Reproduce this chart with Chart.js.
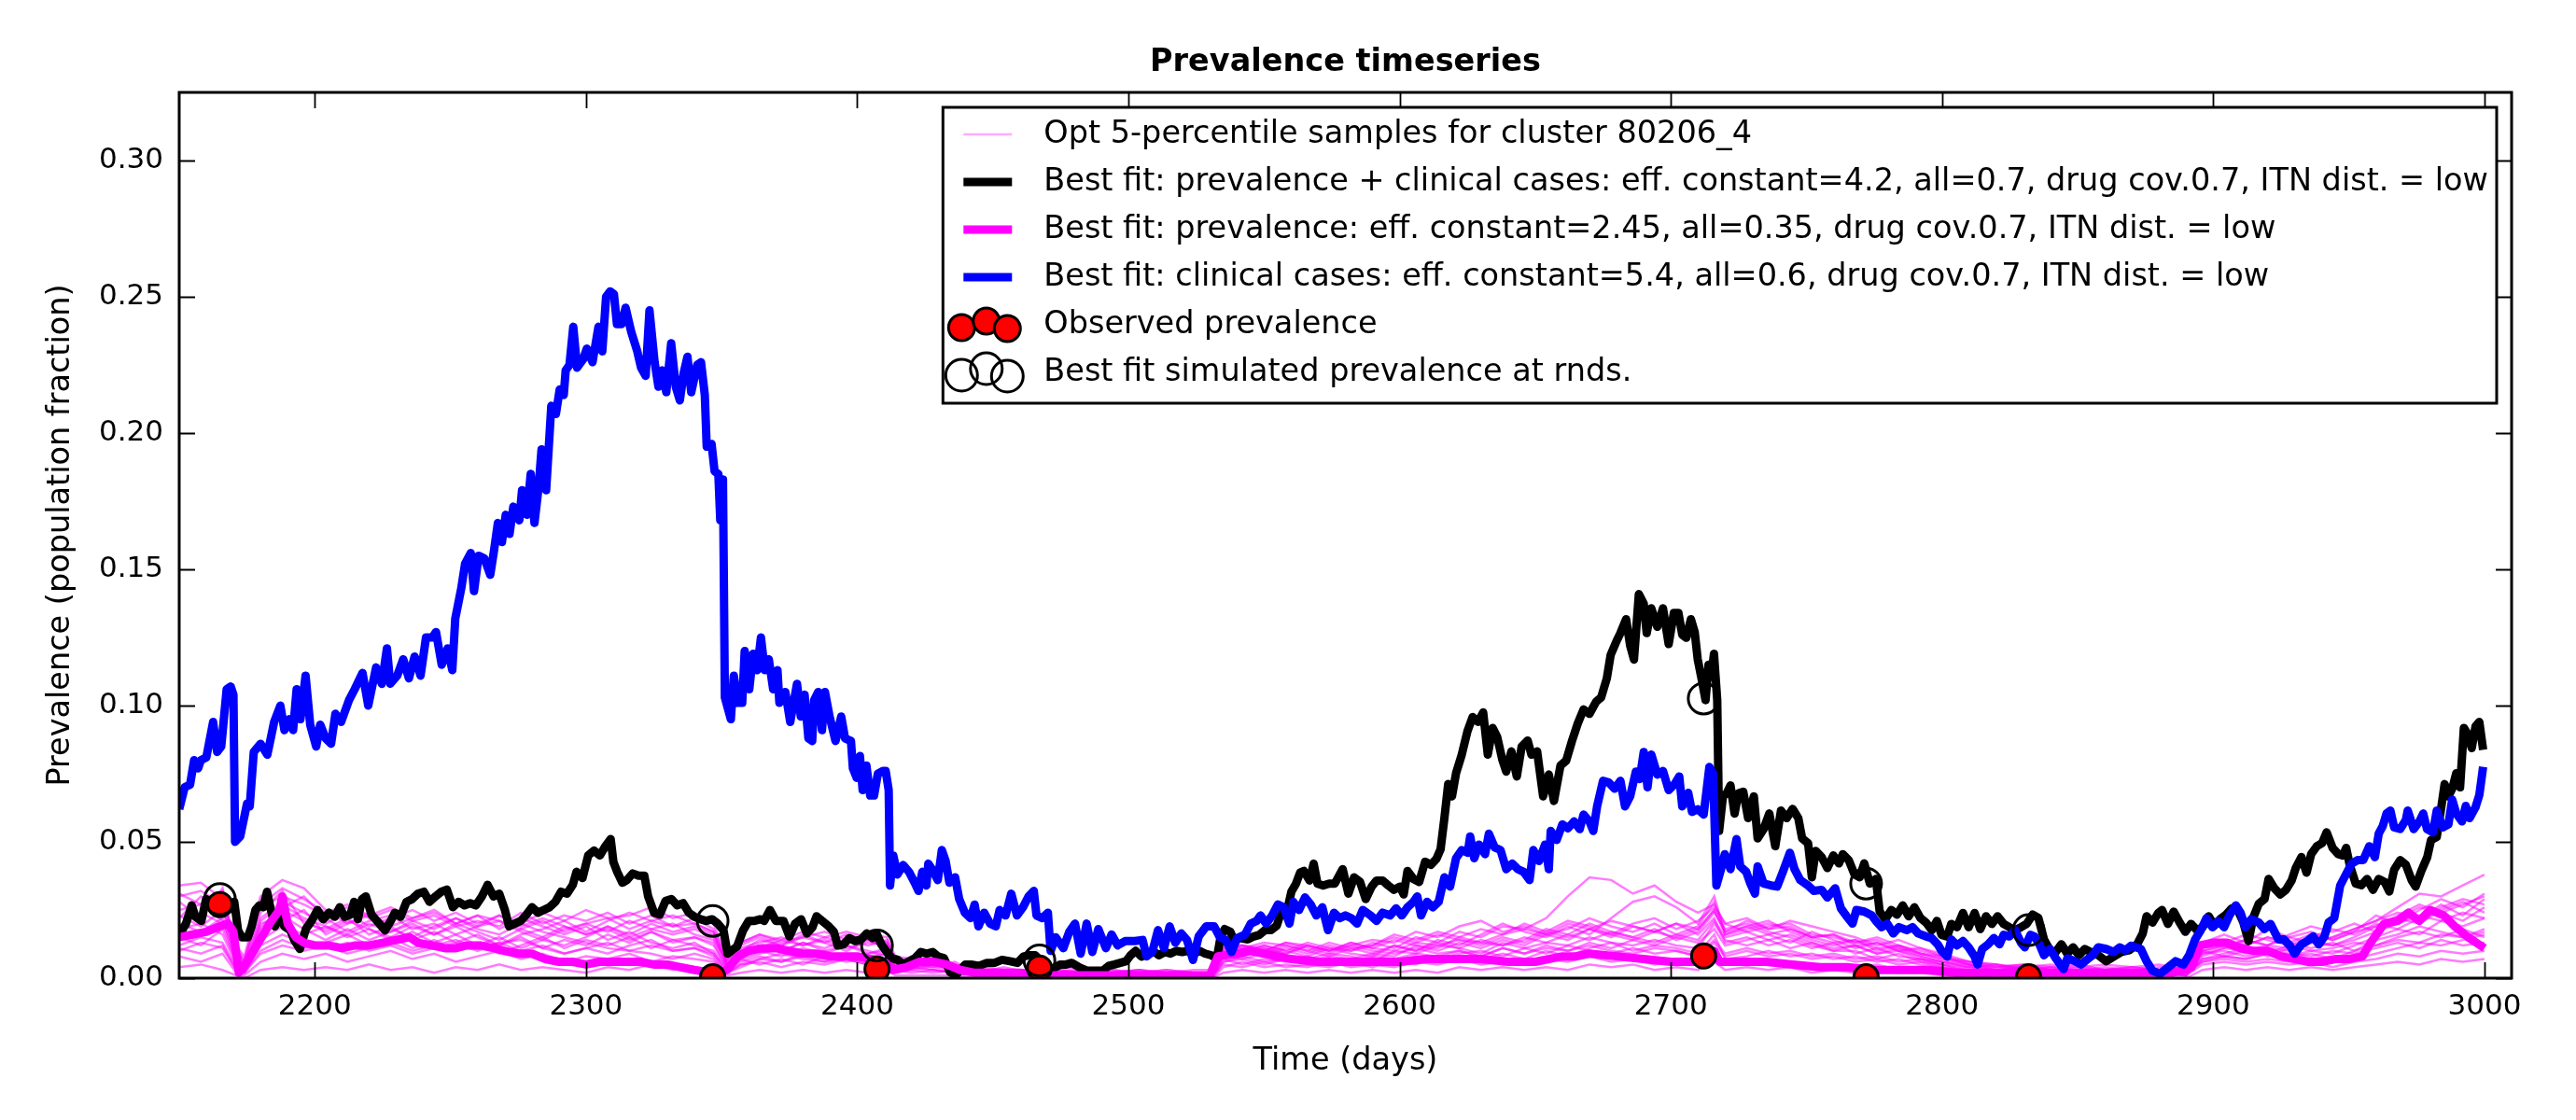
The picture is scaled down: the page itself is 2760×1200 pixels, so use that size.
<!DOCTYPE html>
<html>
<head>
<meta charset="utf-8">
<title>Prevalence timeseries</title>
<script src="https://cdn.jsdelivr.net/npm/chart.js@4.4.1/dist/chart.umd.min.js"></script>
<style>
  html, body { margin: 0; padding: 0; background: #fff; }
  canvas { display: block; }
</style>
</head>
<body>
<canvas id="chart" width="2760" height="1200"></canvas>
<script>
// axis ticks
const xTicks = [2200, 2300, 2400, 2500, 2600, 2700, 2800, 2900, 3000];
const yTicks = [0, 0.05, 0.10, 0.15, 0.20, 0.25, 0.30];

// best fit: clinical cases (blue) [day, prevalence]
const blueFit = [
  [2150,.062],[2152,.070],[2154,.071],[2155.5,.080],[2157,.077],[2158,.080],[2160,.081],[2162.5,.094],[2164,.083],[2165.5,.085],
  [2167.5,.106],[2169,.107],[2170,.104],[2170.6,.050],[2172.5,.052],[2175,.064],[2176,.063],[2177.5,.083],[2180,.086],[2182.5,.082],
  [2185,.094],[2187.3,.100],[2188.8,.091],[2190.5,.095],[2192,.091],[2193.3,.106],[2194.7,.095],[2196.6,.111],[2198.3,.093],[2200.5,.085],
  [2202,.093],[2204,.088],[2206,.086],[2207.6,.097],[2209.7,.094],[2212.6,.102],[2214.7,.106],[2217.6,.112],[2219.7,.100],[2222.6,.114],
  [2224.7,.108],[2226.6,.121],[2227.8,.108],[2230.4,.111],[2232.6,.117],[2234.7,.110],[2236.8,.118],[2239,.111],[2241,.125],[2243.3,.125],
  [2244.7,.127],[2246.8,.115],[2249,.121],[2250.7,.113],[2251.8,.132],[2254,.143],[2255.4,.152],[2257.5,.156],[2258.7,.142],[2260.4,.155],
  [2262.5,.154],[2264.7,.148],[2266.1,.157],[2267.5,.167],[2269,.160],[2270.4,.170],[2271.8,.163],[2273.2,.173],[2275.4,.168],[2276.4,.179],
  [2278.2,.170],[2279.6,.185],[2281,.167],[2282.5,.180],[2283.6,.194],[2285.3,.179],[2287.2,.210],[2288.9,.207],[2290.3,.216],[2291.8,.214],
  [2292.5,.223],[2293.9,.225],[2295.3,.239],[2296.7,.224],[2298.9,.227],[2300.3,.231],[2302.4,.226],[2304.6,.239],[2306,.230],[2307.4,.250],
  [2308.9,.252],[2310.3,.251],[2311.4,.240],[2313.1,.240],[2314.6,.246],[2316.7,.237],[2318.9,.230],[2320.3,.224],[2322,.221],[2323.4,.245],
  [2325.3,.226],[2326.7,.217],[2328.1,.223],[2329.6,.215],[2331.4,.233],[2333.1,.217],[2334.6,.212],[2336,.222],[2337.4,.228],[2338.8,.215],
  [2341,.225],[2342.4,.226],[2343.8,.214],[2344.5,.195],[2346.3,.196],[2347.4,.186],[2348.8,.185],[2349.5,.168],[2350.5,.183],[2351.2,.103],
  [2353.4,.095],[2354.5,.111],[2355.9,.101],[2357.6,.101],[2358.5,.120],[2360.2,.106],[2361.6,.119],[2363.1,.113],[2364.5,.125],[2365.9,.113],
  [2367.4,.117],[2369,.106],[2370.6,.113],[2371.3,.101],[2373.5,.105],[2375.3,.094],[2377.8,.108],[2379.2,.096],[2380.6,.104],[2382,.088],
  [2383.4,.087],[2384.1,.102],[2385.6,.105],[2387,.091],[2388.1,.105],[2389.8,.096],[2392,.087],[2394.1,.096],[2395.5,.088],[2397.7,.087],
  [2398.4,.077],[2399.8,.0735],[2401,.0815],[2402,.069],[2403.4,.078],[2404.8,.067],[2406.2,.067],[2407.6,.075],[2409.5,.076],[2410.5,.076],
  [2411.6,.069],[2412.1,.034],[2413.3,.045],[2414.8,.038],[2416.9,.0415],[2419.1,.039],[2421.2,.035],[2422.6,.032],[2424,.039],[2425.5,.034],
  [2426.2,.042],[2427.6,.040],[2429.7,.036],[2431.2,.047],[2432.6,.043],[2434,.035],[2436.1,.037],[2437.6,.029],[2439.7,.024],[2441.8,.022],
  [2443.3,.027],[2444.7,.019],[2446.8,.024],[2449,.020],[2451.1,.019],[2452.5,.025],[2454.7,.023],[2456.8,.031],[2458.9,.023],[2461.1,.026],
  [2463.2,.030],[2465.1,.032],[2466.1,.023],[2468.2,.022],[2470.3,.024],[2471.3,.010],[2473.2,.015],[2476,.011],[2478.2,.017],[2480.3,.020],
  [2482.4,.009],[2484.6,.020],[2486.7,.0096],[2488.9,.018],[2491.7,.011],[2493.8,.016],[2496,.012],[2498.8,.0136],[2502.4,.0136],[2505.2,.014],
  [2506.7,.008],[2508.8,.0096],[2510.9,.0176],[2513.1,.011],[2515.2,.019],[2517.3,.013],[2519.5,.0164],[2521.6,.014],[2523.8,.0067],[2525.9,.0153],
  [2528.7,.019],[2531.6,.019],[2533.7,.015],[2535.9,.014],[2538,.0096],[2540.1,.0147],[2543,.016],[2545.1,.020],[2547.3,.021],[2548.7,.023],
  [2550.8,.020],[2553,.023],[2555.1,.027],[2557.2,.026],[2559.4,.020],[2560.8,.028],[2562.9,.025],[2565.1,.0296],[2567.2,.027],[2569.3,.023],
  [2571.5,.026],[2573.6,.0176],[2575.8,.024],[2577.9,.022],[2580,.023],[2582.2,.022],[2584.3,.020],[2586.4,.025],[2589.3,.023],[2591.5,.021],
  [2593.7,.024],[2596.5,.023],[2598.7,.0256],[2600.8,.023],[2602.9,.026],[2605.1,.028],[2606.5,.030],[2607.9,.023],[2610.1,.028],[2612.2,.026],
  [2614.4,.028],[2616.5,.037],[2618.6,.0336],[2620.8,.044],[2622.9,.047],[2625.1,.046],[2626,.052],[2627.5,.044],[2629.3,.049],[2631.5,.0455],
  [2632.9,.053],[2635,.048],[2637.2,.047],[2639.3,.040],[2641.5,.042],[2643.6,.040],[2645.7,.039],[2647.9,.036],[2649.3,.047],[2651.4,.043],
  [2653.6,.049],[2655,.040],[2655.7,.054],[2657.9,.0507],[2660,.0564],[2662.1,.055],[2664.3,.0575],[2666.4,.0547],[2667.8,.060],[2670,.0575],
  [2671.4,.054],[2672.8,.063],[2675,.0724],[2677.1,.0718],[2679.3,.0695],[2681.4,.0724],[2683.1,.063],[2685,.0667],[2687.1,.0758],[2688.5,.073],
  [2690,.083],[2691.4,.070],[2692.8,.082],[2695,.0747],[2697.1,.076],[2699.2,.069],[2701.4,.0712],[2703.1,.074],[2704.2,.063],[2706.4,.068],
  [2707.8,.061],[2709.9,.062],[2712.1,.060],[2714.2,.0775],[2715.6,.075],[2716.8,.034],[2718.5,.040],[2719.9,.0455],[2722,.040],[2724.2,.051],
  [2725.6,.041],[2727.8,.039],[2729.2,.035],[2731,.031],[2732,.041],[2734.2,.0347],[2737,.034],[2739.2,.0336],[2741.3,.039],[2743.9,.046],
  [2745.6,.040],[2747.7,.036],[2750.6,.034],[2752.7,.032],[2755.6,.0324],[2757.7,.0296],[2760.6,.033],[2762.7,.0256],[2764.8,.0227],[2767,.020],
  [2768.4,.025],[2771.3,.0244],[2774.1,.023],[2775.6,.021],[2777.7,.0187],[2779.8,.020],[2782,.0164],[2784.1,.0187],[2787,.0176],[2789.1,.0187],
  [2791.2,.0164],[2794.1,.0153],[2796.2,.0147],[2798.4,.0124],[2799.8,.010],[2801.9,.0079],[2803.4,.0142],[2805.5,.012],[2807.7,.0136],[2809.8,.0113],
  [2812,.0079],[2813.1,.005],[2814.8,.0107],[2817,.0124],[2819.1,.0147],[2821.2,.0124],[2822.7,.0159],[2824.8,.0153],[2826.9,.0176],[2829.1,.013],
  [2830.5,.0113],[2832.6,.0159],[2834.1,.0153],[2835.9,.0124],[2837.6,.0084],[2839.8,.0107],[2841.9,.0073],[2844.8,.0033],[2846.2,.0073],[2849,.0062],
  [2851.2,.005],[2853.3,.0067],[2855.5,.0084],[2857.6,.0113],[2860.5,.0107],[2863.3,.0096],[2865.5,.0113],[2867.6,.0102],[2869.7,.0119],[2873.3,.0107],
  [2875.4,.0062],[2877.6,.0027],[2880.4,.0016],[2883.3,.0039],[2886.1,.0062],[2889,.005],[2891.1,.0084],[2893.3,.0142],[2895.4,.0176],[2897.5,.022],
  [2899.7,.0187],[2901.8,.021],[2904,.0187],[2906.1,.0233],[2908.3,.0267],[2910.1,.0239],[2911.8,.0187],[2914,.0216],[2916.8,.0204],[2918.9,.018],
  [2921.1,.0199],[2924,.0142],[2926,.0142],[2928.2,.012],[2930,.009],[2932.5,.0124],[2934.6,.0136],[2936.8,.0153],[2938.9,.0124],[2941,.0153],
  [2942.5,.0204],[2944.6,.022],[2946.8,.034],[2948.9,.038],[2951,.042],[2953.2,.0433],[2955.3,.0433],[2957.5,.0484],[2959.6,.0444],[2961,.053],
  [2962.5,.0558],[2963.9,.0604],[2965.3,.0615],[2966.7,.0553],[2968.9,.0547],[2971,.058],[2971.7,.0615],[2973.9,.0547],[2976,.0575],[2977.4,.0604],
  [2978.8,.0547],[2981,.0535],[2982.4,.0615],[2984.6,.0553],[2986.7,.0564],[2988.1,.0655],[2989.6,.0604],[2991.7,.0575],[2993.1,.0632],[2994.5,.0587],
  [2996.7,.0627],[2998.1,.0672],[2999.5,.0775]
];

// best fit: prevalence + clinical cases (black)
const blackFit = [
  [2150,.017],[2151,.0175],[2152.5,.020],[2154.6,.0267],[2156,.0225],[2158.2,.021],[2159.9,.029],[2161.7,.0275],[2163.9,.026],[2166,.0267],
  [2168.1,.025],[2170.3,.028],[2171.7,.0175],[2173.1,.015],[2175.3,.015],[2176.7,.019],[2178.1,.025],[2179.6,.0267],[2181,.026],[2182.4,.0317],
  [2183.8,.025],[2185.3,.019],[2187,.0225],[2188.8,.019],[2191,.0175],[2192.4,.014],[2194.5,.0107],[2196.7,.018],[2198.8,.021],[2201,.025],
  [2203.1,.0216],[2205.2,.024],[2207.4,.0225],[2209.2,.026],[2211,.0225],[2213.1,.0233],[2214.5,.028],[2215.9,.0216],[2217.4,.029],[2218.8,.030],
  [2220.9,.0233],[2223.8,.020],[2225.9,.0175],[2228,.021],[2229.5,.024],[2231.6,.0225],[2233.8,.028],[2235.9,.029],[2238,.031],[2240.2,.0317],
  [2242.3,.028],[2244.5,.030],[2246.6,.0317],[2248.7,.0325],[2250.9,.026],[2253,.028],[2255.2,.0267],[2257.3,.0275],[2259.4,.0267],[2261.6,.030],
  [2263.7,.0342],[2265.9,.030],[2268,.031],[2270.1,.025],[2271.6,.019],[2273.7,.020],[2275.9,.021],[2278,.0233],[2280.1,.026],[2282.3,.024],
  [2284.4,.025],[2286.5,.026],[2288.7,.028],[2290.8,.0317],[2293,.031],[2295.1,.0342],[2296.5,.039],[2298.7,.0367],[2300.8,.045],[2303,.0468],
  [2305.1,.045],[2307.2,.0485],[2309.1,.051],[2310.1,.0426],[2311.5,.039],[2313.4,.035],[2315.1,.036],[2317.2,.0384],[2319.4,.0376],[2321.5,.0376],
  [2322.9,.030],[2325.1,.024],[2327.2,.0233],[2329.3,.0283],[2331.5,.029],[2333.6,.0267],[2335.8,.0275],[2337.9,.024],[2340,.0225],[2342.2,.0216],
  [2344.3,.021],[2346.5,.0216],[2348.6,.020],[2350.7,.0175],[2352.2,.009],[2353.6,.010],[2355.7,.0116],[2357.9,.0175],[2360,.021],[2362.1,.021],
  [2364.3,.0216],[2365.7,.021],[2367.8,.025],[2370,.021],[2372.8,.021],[2375,.0153],[2377.1,.020],[2379.3,.0216],[2381.4,.0164],[2383.5,.0187],
  [2385,.0227],[2387.1,.021],[2389.2,.0193],[2391.4,.017],[2392.8,.012],[2395,.0124],[2397.1,.0147],[2399.2,.0136],[2401.4,.0142],[2403.5,.0164],
  [2405.7,.0147],[2407.1,.0164],[2408.9,.0124],[2410.6,.010],[2412.8,.0073],[2414.9,.0067],[2417.1,.005],[2419.2,.0062],[2421.3,.0073],[2423.5,.0096],
  [2425.6,.009],[2427.8,.0096],[2429.9,.0079],[2432,.0073],[2434.2,.0022],[2436.3,.001],[2437.8,.0027],[2439.9,.005],[2442,.005],[2444.9,.0045],
  [2447.8,.0056],[2450.6,.0056],[2453.4,.0067],[2456.3,.0062],[2459.1,.0056],[2461.3,.0079],[2463.4,.0084],[2465.6,.0084],[2469.1,.005],[2472,.0033],
  [2474.8,.005],[2477,.005],[2479.1,.0056],[2482,.0039],[2484.8,.0027],[2487.7,.0027],[2490.5,.0027],[2492.7,.0045],[2494.8,.005],[2497,.0056],
  [2499.1,.0062],[2500.8,.0084],[2502.7,.010],[2504.8,.0079],[2506.9,.009],[2509.1,.010],[2511.2,.0084],[2513.4,.0096],[2515.5,.009],[2517.6,.010],
  [2519.8,.0096],[2521.9,.010],[2524.1,.009],[2526.2,.010],[2528.3,.009],[2530.5,.0084],[2532.6,.0073],[2534,.0153],[2535.5,.018],[2537.6,.017],
  [2539,.0136],[2541.2,.0147],[2544,.0142],[2546.2,.0153],[2548.3,.0159],[2550.4,.0176],[2552.6,.0176],[2554.7,.0193],[2556.2,.0239],[2558.3,.0239],
  [2560.1,.0318],[2561.8,.0347],[2563.3,.0387],[2564.7,.0393],[2566.8,.0358],[2568.3,.042],[2569.7,.0347],[2571.8,.034],[2574,.0347],[2576.1,.0347],
  [2579,.040],[2581.1,.031],[2583.2,.037],[2585.4,.0353],[2587.5,.029],[2589.7,.0336],[2591.5,.0358],[2593.7,.0358],[2595.8,.034],[2597.9,.0324],
  [2600.1,.0336],[2601.5,.0307],[2602.9,.0393],[2605.1,.0364],[2607.2,.0353],[2609.4,.0427],[2611.5,.0416],[2613.6,.0438],[2615.1,.0473],[2616.5,.0587],
  [2617.9,.0712],[2619.3,.0667],[2620.8,.0752],[2622.9,.082],[2625,.0906],[2626.9,.0958],[2628.9,.094],[2630.8,.0975],[2632.5,.082],[2634.3,.0918],
  [2636,.0884],[2637.9,.080],[2639.3,.0758],[2641.2,.0832],[2643.2,.074],[2645,.085],[2647.2,.0872],[2648.6,.082],[2650.7,.0832],[2652.9,.0667],
  [2655,.0747],[2656.9,.065],[2659.3,.078],[2661.4,.0798],[2663.6,.0872],[2665.7,.0935],[2667.8,.0986],[2670,.097],[2672.5,.1015],[2674.3,.103],
  [2676.4,.110],[2677.8,.1186],[2680,.1237],[2681.4,.1266],[2683.5,.1317],[2685,.122],[2686.4,.1169],[2688.2,.1409],[2690,.1374],[2691.1,.1266],
  [2692.8,.1357],[2695,.1289],[2697.1,.1357],[2699.2,.1226],[2701.1,.134],[2702.8,.134],[2704.2,.126],[2705.7,.1249],[2707.4,.1317],[2708.8,.127],
  [2709.9,.117],[2711.4,.1095],[2712.8,.102],[2713.9,.115],[2714.9,.1106],[2715.9,.119],[2717.1,.102],[2717.8,.054],[2719.2,.0667],[2720.6,.0678],
  [2722,.0707],[2723.5,.0604],[2724.9,.0678],[2726.7,.0684],[2728.5,.0587],[2730.6,.0667],[2732,.0513],[2734.2,.0547],[2736.3,.0604],[2738.5,.0484],
  [2740.6,.0615],[2742.7,.0587],[2744.9,.0621],[2747,.0587],[2748.4,.0513],[2750.6,.0495],[2752,.037],[2753.4,.0467],[2755.6,.0444],[2757.7,.0404],
  [2759.9,.045],[2762,.0421],[2763.4,.0455],[2765.6,.0433],[2767.7,.0381],[2769.6,.037],[2771.3,.0421],[2773.4,.0347],[2775.6,.0364],[2777,.0244],
  [2779.1,.0216],[2781.3,.025],[2783.4,.0233],[2785.5,.0267],[2787.7,.0227],[2789.8,.026],[2792,.0221],[2794.1,.0204],[2796.2,.0176],[2798.1,.021],
  [2799.8,.0159],[2801.9,.0153],[2803.4,.0199],[2805.5,.0187],[2807.7,.0239],[2809.8,.0187],[2812,.0239],[2814.1,.018],[2816.2,.0227],[2818.4,.0199],
  [2820.5,.0227],[2822.7,.0199],[2824.8,.0187],[2826.9,.0176],[2829.1,.0187],[2831.2,.0199],[2833.4,.0233],[2835.5,.0221],[2837.6,.0142],[2839.8,.0102],
  [2841.9,.0096],[2844,.0124],[2846.2,.009],[2848.3,.0113],[2850.5,.0084],[2852.6,.0107],[2854.8,.0096],[2857.6,.0084],[2860.5,.0062],[2863.3,.0079],
  [2866.2,.0096],[2869,.0102],[2871.9,.0124],[2874,.0164],[2875.4,.0227],[2877.6,.0204],[2879.7,.0239],[2881.1,.025],[2883.3,.0199],[2885.4,.0244],
  [2887.6,.0204],[2889.7,.017],[2891.8,.0199],[2894,.0176],[2896.1,.0187],[2898.3,.0227],[2900.4,.0193],[2902.5,.0216],[2904.7,.0233],[2906.8,.0256],
  [2909,.025],[2911.1,.0204],[2913,.0136],[2914.7,.0221],[2916.8,.0273],[2918.9,.029],[2920.4,.0364],[2922.5,.033],[2924.7,.0307],[2926.8,.0324],
  [2928.9,.0358],[2930.4,.0404],[2932.5,.0444],[2934.4,.0387],[2936.1,.0455],[2938.2,.0484],[2940.1,.0495],[2941.8,.0535],[2944,.0478],[2946.1,.0455],
  [2947.8,.045],[2949,.0478],[2950.3,.0416],[2952.5,.0347],[2954.6,.0341],[2956.7,.0364],[2958.9,.0324],[2961,.0364],[2963.2,.0353],[2964.9,.0318],
  [2966.7,.0398],[2968.9,.0433],[2971,.0416],[2973.2,.0358],[2974.6,.0336],[2976.7,.0393],[2978.9,.0444],[2980.3,.0507],[2982.4,.0518],[2983.9,.0615],
  [2985.3,.0712],[2986.7,.0667],[2988.1,.0695],[2989.6,.0752],[2991,.070],[2992.4,.0918],[2993.8,.0895],[2995.3,.0844],[2996.7,.0924],[2998.1,.094],
  [2999.5,.0838]
];

// best fit: prevalence (magenta)
const magentaFit = [
  [2150,.015],[2155,.016],[2160,.017],[2165,.019],[2168,.020],[2170,.017],[2172,.002],[2175,.006],[2178,.011],[2181,.016],
  [2184,.021],[2187,.025],[2188,.030],[2190,.020],[2193,.015],[2196,.013],[2200,.012],[2205,.012],[2210,.011],[2215,.012],
  [2220,.012],[2225,.013],[2230,.014],[2235,.015],[2238,.013],[2243,.012],[2248,.011],[2252,.011],[2256,.012],[2261,.012],
  [2266,.011],[2270,.010],[2275,.009],[2280,.009],[2285,.007],[2290,.006],[2295,.006],[2300,.005],[2305,.006],[2310,.006],
  [2315,.006],[2320,.006],[2325,.005],[2330,.005],[2335,.004],[2340,.003],[2346,.002],[2352,.003],[2356,.008],[2360,.010],
  [2365,.011],[2370,.011],[2375,.010],[2380,.009],[2385,.009],[2390,.008],[2395,.008],[2400,.008],[2405,.007],[2410,.006],
  [2413,.003],[2418,.004],[2423,.006],[2428,.006],[2433,.005],[2438,.003],[2443,.002],[2450,.002],[2460,.002],[2470,.001],
  [2480,.001],[2490,.001],[2500,.001],[2510,.001],[2520,.001],[2530,.001],[2533,.008],[2540,.009],[2545,.010],[2550,.009],
  [2555,.008],[2560,.007],[2570,.006],[2580,.006],[2590,.006],[2600,.006],[2610,.007],[2620,.007],[2630,.007],[2640,.006],
  [2650,.006],[2660,.008],[2665,.008],[2670,.009],[2680,.008],[2690,.007],[2700,.006],[2710,.006],[2716,.010],[2718,.006],
  [2725,.006],[2735,.006],[2745,.005],[2755,.004],[2765,.004],[2775,.003],[2785,.003],[2795,.003],[2805,.002],[2815,.002],
  [2825,.002],[2835,.002],[2845,.002],[2855,.002],[2865,.002],[2875,.002],[2885,.002],[2892,.004],[2895,.012],[2900,.013],
  [2905,.013],[2910,.011],[2915,.010],[2920,.010],[2925,.008],[2930,.007],[2935,.006],[2940,.006],[2945,.007],[2950,.007],
  [2955,.008],[2958,.013],[2963,.020],[2968,.021],[2972,.024],[2976,.021],[2980,.025],[2985,.023],[2989,.019],[2994,.015],
  [3000,.011]
];

// observation rounds
const roundDays = [2165, 2346.7, 2407.3, 2467.2, 2712.1, 2772, 2831.9];
const observedPrev = [.027, .0005, .0033, .0037, .0081, .0005, .0005];
const simulatedPrev = [.029, .021, .012, .0065, .1026, .0347, .0176];

// 5-percentile sample runs, all on the same days
const sampleDays = [
  2150,2158,2166,2171,2174,2180,2188,2196,2204,2212,2220,2228,2236,2244,2252,2260,2268,2276,2284,2292,
  2300,2308,2316,2324,2332,2340,2347,2352,2357,2364,2372,2380,2388,2396,2404,2411,2414,2420,2428,2436,
  2444,2454,2464,2474,2484,2494,2504,2514,2524,2531,2535,2542,2550,2558,2566,2574,2582,2590,2598,2606,
  2614,2622,2630,2638,2646,2654,2662,2670,2678,2686,2694,2702,2710,2716,2720,2728,2736,2744,2752,2760,
  2768,2776,2784,2792,2800,2810,2820,2830,2840,2850,2860,2870,2880,2890,2896,2904,2912,2920,2928,2936,
  2944,2952,2960,2968,2976,2984,2992,3000
];
const sampleA = [
  .022,.030,.026,.010,.006,.024,.032,.020,.018,.022,.016,.019,.014,.017,.013,.016,.012,.015,.011,.014,
  .012,.016,.013,.017,.014,.012,.010,.004,.008,.010,.008,.011,.009,.012,.010,.008,.004,.005,.004,.003,
  .002,.002,.001,.002,.001,.001,.002,.001,.001,.001,.008,.010,.008,.011,.009,.012,.010,.013,.011,.015,
  .013,.017,.015,.019,.018,.022,.030,.037,.036,.031,.034,.028,.024,.027,.020,.022,.018,.019,.015,.016,
  .012,.013,.010,.011,.008,.005,.004,.004,.003,.003,.004,.003,.004,.004,.010,.012,.009,.011,.010,.013,
  .015,.018,.021,.026,.031,.030,.034,.038
];
const sampleB = [
  .028,.022,.033,.008,.004,.018,.026,.030,.022,.017,.021,.023,.018,.020,.016,.019,.021,.017,.014,.018,
  .020,.017,.021,.018,.020,.016,.014,.006,.011,.013,.015,.012,.014,.011,.013,.012,.006,.007,.006,.004,
  .003,.002,.003,.002,.002,.001,.002,.002,.001,.002,.011,.009,.012,.010,.008,.011,.009,.008,.012,.010,
  .014,.012,.016,.020,.017,.015,.019,.016,.022,.028,.030,.026,.020,.030,.016,.019,.021,.017,.014,.012,
  .014,.010,.012,.009,.007,.006,.005,.003,.004,.002,.003,.002,.003,.002,.008,.011,.014,.012,.016,.019,
  .017,.020,.017,.022,.020,.025,.028,.024
];
const sampleC = [
  .034,.035,.029,.012,.008,.030,.036,.033,.025,.020,.024,.019,.022,.025,.020,.023,.018,.022,.019,.016,
  .019,.014,.017,.013,.011,.013,.009,.003,.006,.008,.006,.009,.007,.008,.006,.007,.003,.004,.003,.002,
  .001,.001,.000,.001,.000,.001,.000,.001,.000,.000,.006,.007,.005,.007,.006,.008,.007,.009,.008,.012,
  .010,.013,.011,.014,.012,.016,.014,.018,.015,.019,.017,.020,.016,.022,.013,.015,.012,.014,.011,.013,
  .009,.011,.008,.007,.005,.003,.002,.002,.001,.002,.001,.002,.001,.002,.006,.008,.007,.009,.008,.010,
  .009,.012,.015,.018,.016,.021,.019,.022
];
const sampleD = [
  .018,.020,.016,.005,.003,.014,.019,.016,.019,.015,.018,.014,.017,.013,.016,.012,.015,.011,.014,.012,
  .015,.019,.016,.020,.017,.019,.016,.005,.010,.012,.010,.013,.011,.014,.012,.014,.005,.006,.007,.005,
  .002,.003,.002,.003,.002,.003,.002,.003,.002,.002,.009,.012,.010,.013,.011,.009,.012,.010,.009,.011,
  .009,.010,.008,.011,.009,.012,.010,.013,.011,.014,.012,.015,.013,.018,.012,.014,.016,.013,.017,.014,
  .011,.013,.010,.008,.006,.004,.005,.003,.004,.003,.002,.003,.002,.003,.012,.014,.012,.015,.013,.011,
  .013,.010,.014,.016,.019,.017,.015,.018
];
const sampleE = [
  .012,.015,.013,.004,.002,.010,.014,.011,.013,.016,.012,.015,.011,.014,.010,.013,.009,.012,.015,.011,
  .014,.012,.015,.011,.014,.015,.012,.004,.007,.009,.011,.008,.010,.007,.009,.010,.004,.005,.004,.006,
  .002,.001,.002,.001,.002,.001,.001,.002,.001,.001,.007,.005,.007,.006,.008,.006,.005,.007,.006,.008,
  .007,.009,.010,.008,.011,.009,.012,.010,.009,.011,.009,.010,.008,.014,.009,.011,.009,.010,.008,.009,
  .007,.008,.006,.007,.005,.002,.003,.002,.002,.001,.002,.001,.002,.001,.009,.010,.008,.010,.009,.008,
  .010,.009,.011,.013,.011,.014,.012,.013
];
const sampleF = [
  .008,.006,.009,.002,.001,.006,.009,.007,.009,.006,.008,.010,.007,.009,.006,.008,.010,.007,.009,.006,
  .008,.007,.009,.006,.008,.007,.006,.002,.005,.006,.004,.006,.005,.007,.005,.006,.002,.003,.002,.003,
  .001,.001,.001,.000,.001,.000,.001,.000,.001,.000,.004,.006,.004,.005,.004,.006,.004,.005,.004,.006,
  .005,.007,.005,.006,.005,.007,.006,.008,.006,.007,.005,.007,.006,.010,.005,.006,.005,.006,.004,.005,
  .004,.005,.003,.004,.003,.001,.002,.001,.001,.001,.001,.001,.001,.001,.005,.006,.005,.006,.005,.006,
  .004,.006,.007,.009,.008,.010,.009,.010
];
const sampleG = [
  .004,.005,.003,.001,.000,.003,.004,.003,.004,.003,.005,.003,.004,.002,.004,.003,.005,.003,.004,.003,
  .002,.004,.003,.005,.003,.004,.003,.001,.002,.003,.002,.003,.002,.003,.002,.003,.001,.001,.001,.001,
  .000,.000,.000,.000,.000,.000,.000,.000,.000,.000,.002,.003,.002,.003,.002,.003,.002,.003,.002,.003,
  .002,.004,.003,.004,.003,.004,.003,.005,.004,.005,.003,.004,.003,.006,.003,.004,.003,.004,.002,.003,
  .002,.003,.002,.002,.001,.000,.001,.000,.000,.000,.000,.000,.000,.000,.003,.004,.003,.004,.003,.004,
  .003,.004,.005,.006,.005,.007,.006,.007
];
const sampleH = [
  .015,.012,.018,.006,.003,.020,.023,.018,.014,.018,.014,.017,.020,.016,.019,.015,.012,.016,.018,.021,
  .017,.021,.024,.021,.023,.020,.017,.006,.012,.015,.012,.016,.013,.010,.014,.011,.005,.008,.006,.004,
  .002,.004,.002,.003,.002,.002,.003,.001,.002,.001,.010,.008,.011,.009,.012,.010,.013,.011,.014,.012,
  .011,.015,.013,.012,.014,.018,.016,.020,.017,.015,.018,.014,.017,.024,.018,.020,.017,.015,.012,.010,
  .012,.009,.011,.008,.006,.005,.003,.004,.002,.003,.002,.003,.002,.002,.007,.009,.011,.008,.011,.014,
  .012,.015,.019,.023,.027,.024,.021,.026
];
const sampleI = [
  .025,.027,.021,.009,.005,.022,.028,.024,.020,.024,.019,.022,.025,.021,.024,.020,.023,.019,.022,.019,
  .016,.019,.015,.018,.016,.018,.015,.005,.009,.011,.014,.017,.015,.017,.015,.013,.007,.006,.008,.005,
  .003,.002,.003,.002,.003,.002,.001,.002,.001,.002,.012,.011,.013,.012,.010,.013,.011,.012,.016,.014,
  .017,.015,.018,.016,.020,.017,.021,.019,.016,.020,.022,.018,.021,.026,.020,.017,.019,.020,.016,.015,
  .013,.015,.012,.010,.008,.006,.004,.005,.004,.005,.003,.004,.003,.004,.011,.013,.016,.014,.012,.015,
  .018,.016,.020,.018,.022,.027,.023,.029
];
const sampleJ = [
  .010,.013,.011,.003,.002,.012,.016,.013,.011,.013,.010,.012,.009,.011,.013,.010,.013,.014,.011,.009,
  .011,.009,.012,.014,.010,.011,.009,.003,.007,.005,.007,.005,.008,.006,.007,.005,.003,.002,.003,.002,
  .001,.001,.001,.001,.001,.001,.001,.001,.001,.001,.005,.004,.006,.004,.005,.004,.006,.004,.007,.005,
  .008,.006,.007,.009,.007,.010,.008,.011,.013,.010,.012,.011,.009,.016,.007,.008,.010,.008,.009,.007,
  .008,.006,.007,.005,.004,.003,.002,.003,.002,.002,.003,.002,.001,.002,.006,.007,.006,.007,.006,.007,
  .008,.007,.009,.011,.013,.012,.014,.016
];
const sampleK = [
  .020,.017,.022,.007,.004,.016,.021,.025,.016,.020,.023,.018,.015,.019,.022,.018,.016,.020,.017,.015,
  .013,.011,.010,.009,.007,.009,.007,.002,.004,.007,.009,.007,.006,.009,.008,.009,.004,.003,.005,.003,
  .002,.001,.002,.001,.001,.002,.001,.001,.002,.001,.008,.007,.009,.008,.007,.009,.008,.006,.010,.009,
  .012,.011,.009,.013,.011,.013,.012,.015,.013,.012,.014,.012,.011,.020,.014,.012,.014,.011,.013,.010,
  .010,.007,.009,.006,.005,.004,.003,.002,.003,.002,.002,.002,.003,.001,.010,.008,.010,.009,.012,.010,
  .011,.013,.012,.015,.017,.015,.018,.015
];
const sampleL = [
  .030,.032,.027,.011,.007,.026,.030,.027,.023,.026,.022,.025,.021,.023,.019,.021,.019,.024,.020,.023,
  .021,.024,.020,.023,.019,.022,.018,.007,.013,.016,.013,.015,.017,.014,.016,.015,.008,.007,.005,.004,
  .004,.003,.002,.004,.003,.002,.003,.002,.003,.003,.013,.012,.010,.013,.012,.010,.012,.014,.013,.017,
  .015,.019,.021,.017,.019,.016,.018,.022,.019,.017,.020,.016,.019,.028,.017,.021,.018,.021,.019,.017,
  .015,.012,.014,.011,.009,.006,.005,.004,.005,.004,.005,.004,.005,.003,.013,.016,.013,.018,.015,.017,
  .014,.017,.023,.020,.025,.029,.026,.031
];
const sampleM = [
  .019,.024,.020,.006,.003,.019,.025,.021,.017,.021,.018,.015,.019,.016,.020,.017,.014,.018,.015,.019,
  .016,.018,.014,.017,.013,.015,.013,.004,.009,.012,.010,.013,.010,.012,.009,.011,.004,.006,.005,.003,
  .002,.002,.001,.002,.001,.002,.001,.002,.001,.001,.009,.011,.009,.012,.010,.008,.011,.009,.012,.010,
  .013,.011,.014,.012,.015,.013,.016,.014,.017,.015,.013,.016,.014,.021,.015,.017,.014,.016,.013,.011,
  .012,.009,.010,.007,.006,.004,.003,.004,.002,.003,.002,.003,.002,.003,.009,.011,.010,.012,.011,.013,
  .012,.014,.017,.020,.023,.021,.024,.022
];
const sampleN = [
  .031,.027,.032,.010,.006,.027,.033,.029,.024,.027,.023,.026,.022,.024,.020,.023,.021,.018,.021,.017,
  .020,.022,.018,.021,.019,.020,.017,.005,.010,.014,.012,.015,.013,.016,.014,.012,.006,.007,.005,.004,
  .003,.003,.002,.003,.002,.002,.003,.002,.002,.002,.010,.012,.011,.009,.012,.010,.013,.011,.010,.013,
  .012,.014,.012,.015,.013,.017,.015,.018,.016,.014,.017,.015,.018,.025,.016,.018,.020,.018,.015,.016,
  .013,.014,.011,.009,.007,.005,.004,.005,.003,.004,.003,.004,.003,.004,.012,.014,.012,.015,.013,.016,
  .014,.017,.019,.022,.026,.024,.027,.030
];
const sampleO = [
  .011,.009,.012,.003,.002,.009,.012,.010,.012,.009,.011,.013,.010,.012,.014,.011,.013,.010,.012,.009,
  .011,.013,.010,.012,.010,.011,.008,.002,.005,.007,.006,.008,.006,.007,.005,.006,.003,.004,.003,.002,
  .001,.001,.001,.001,.000,.001,.001,.000,.001,.001,.006,.008,.006,.007,.005,.007,.006,.008,.007,.009,
  .008,.010,.008,.011,.009,.011,.010,.012,.010,.009,.011,.010,.008,.013,.008,.010,.008,.009,.007,.008,
  .006,.007,.005,.006,.004,.002,.002,.001,.002,.001,.002,.001,.002,.001,.007,.008,.007,.009,.008,.009,
  .007,.010,.012,.014,.013,.016,.015,.017
];
const sampleP = [
  .023,.019,.025,.008,.004,.021,.027,.022,.019,.016,.020,.017,.021,.018,.022,.019,.023,.020,.024,.021,
  .025,.022,.023,.026,.022,.024,.020,.007,.013,.016,.014,.012,.015,.013,.016,.013,.007,.005,.006,.004,
  .003,.002,.003,.002,.002,.003,.002,.003,.002,.002,.011,.010,.012,.010,.013,.011,.010,.012,.015,.013,
  .016,.014,.013,.016,.018,.016,.020,.018,.021,.019,.017,.020,.018,.025,.017,.019,.016,.018,.015,.013,
  .014,.011,.012,.009,.008,.005,.003,.004,.003,.002,.003,.002,.003,.002,.010,.012,.014,.012,.015,.013,
  .015,.018,.021,.024,.022,.026,.029,.027
];
const sampleRuns = [sampleA, sampleB, sampleC, sampleD, sampleE, sampleF, sampleG, sampleH,
                    sampleI, sampleJ, sampleK, sampleL, sampleM, sampleN, sampleO, sampleP];

const legendLabels = [
  'Opt 5-percentile samples for cluster 80206_4',
  'Best fit: prevalence + clinical cases: eff. constant=4.2, all=0.7, drug cov.0.7, ITN dist. = low',
  'Best fit: prevalence: eff. constant=2.45, all=0.35, drug cov.0.7, ITN dist. = low',
  'Best fit: clinical cases: eff. constant=5.4, all=0.6, drug cov.0.7, ITN dist. = low',
  'Observed prevalence',
  'Best fit simulated prevalence at rnds.'
];

const FONT = 'DejaVu Sans';
const SAMPLE_COLOR = 'rgba(255, 0, 255, 0.52)';
const SAMPLE_KEY = 'rgba(255, 0, 255, 0.33)';
const FIT_WIDTH = 9;

function toPoints(pairs) {
  return pairs.map(p => ({ x: p[0], y: p[1] }));
}

function lineSet(label, pairs, color, width, order) {
  return {
    label: label, data: toPoints(pairs), borderColor: color, borderWidth: width,
    pointRadius: 0, pointHoverRadius: 0, tension: 0, fill: false,
    borderJoinStyle: 'round', clip: 0, order: order
  };
}

const datasets = [];
datasets.push({
  label: legendLabels[5], data: roundDays.map((d, i) => ({ x: d, y: simulatedPrev[i] })),
  showLine: false, pointRadius: 16.5, pointHoverRadius: 16.5, pointBorderWidth: 3,
  pointBackgroundColor: 'rgba(0,0,0,0)', pointBorderColor: '#000', clip: 0, order: 0
});
datasets.push({
  label: legendLabels[4], data: roundDays.map((d, i) => ({ x: d, y: observedPrev[i] })),
  showLine: false, pointRadius: 13, pointHoverRadius: 13, pointBorderWidth: 3,
  pointBackgroundColor: '#ff0000', pointBorderColor: '#000', clip: 0, order: 1
});
datasets.push(lineSet(legendLabels[3], blueFit, '#0000ff', FIT_WIDTH, 2));
datasets.push(lineSet(legendLabels[2], magentaFit, '#ff00ff', FIT_WIDTH, 3));
datasets.push(lineSet(legendLabels[1], blackFit, '#000000', FIT_WIDTH, 4));
sampleRuns.forEach((run, k) => {
  const s = lineSet(k === 0 ? legendLabels[0] : '', run.map((v, i) => [sampleDays[i], v]), SAMPLE_COLOR, 2.5, 10 + k);
  s.borderJoinStyle = 'miter';
  datasets.push(s);
});

// frame, inward ticks, title and boxed legend in the matplotlib manner
const framePlugin = {
  id: 'frame',
  afterDraw(chart) {
    const { ctx, chartArea: a, scales: { x, y } } = chart;
    ctx.save();

    ctx.strokeStyle = '#000';
    ctx.lineWidth = 1.8;
    ctx.beginPath();
    xTicks.forEach(v => {
      const px = Math.round(x.getPixelForValue(v)) + 0.5;
      ctx.moveTo(px, a.bottom); ctx.lineTo(px, a.bottom - 17);
      ctx.moveTo(px, a.top); ctx.lineTo(px, a.top + 17);
    });
    yTicks.forEach(v => {
      const py = Math.round(y.getPixelForValue(v)) + 0.5;
      ctx.moveTo(a.left, py); ctx.lineTo(a.left + 17, py);
      ctx.moveTo(a.right, py); ctx.lineTo(a.right - 17, py);
    });
    ctx.stroke();
    ctx.lineWidth = 3;
    ctx.strokeRect(a.left, a.top, a.right - a.left, a.bottom - a.top);

    // title
    ctx.fillStyle = '#000';
    ctx.font = 'bold 33.5px "' + FONT + '"';
    ctx.textAlign = 'center';
    ctx.textBaseline = 'middle';
    ctx.fillText('Prevalence timeseries', (a.left + a.right) / 2, 67);

    // legend
    ctx.font = '33.5px "' + FONT + '"';
    const maxW = Math.max(...legendLabels.map(t => ctx.measureText(t).width));
    const boxR = a.right - 16;
    const boxL = boxR - (maxW + 108 + 9);
    const boxT = a.top + 16;
    const rowH = 51;
    const boxB = boxT + 29 + rowH * 5 + 33;
    ctx.fillStyle = '#fff';
    ctx.fillRect(boxL, boxT, boxR - boxL, boxB - boxT);
    ctx.lineWidth = 3;
    ctx.strokeStyle = '#000';
    ctx.strokeRect(boxL, boxT, boxR - boxL, boxB - boxT);

    const handles = [
      { color: SAMPLE_KEY, width: 2.5 },
      { color: '#000000', width: FIT_WIDTH },
      { color: '#ff00ff', width: FIT_WIDTH },
      { color: '#0000ff', width: FIT_WIDTH }
    ];
    legendLabels.forEach((label, i) => {
      const cy = boxT + 29 + rowH * i;
      if (i < 4) {
        ctx.beginPath();
        ctx.strokeStyle = handles[i].color;
        ctx.lineWidth = handles[i].width;
        ctx.moveTo(boxL + 22, cy); ctx.lineTo(boxL + 74, cy);
        ctx.stroke();
      } else {
        const offs = [[20, 3], [46.5, -4], [69, 4]];
        offs.forEach(o => {
          ctx.beginPath();
          ctx.lineWidth = 3;
          ctx.strokeStyle = '#000';
          if (i === 4) {
            ctx.arc(boxL + o[0], cy + o[1], 14, 0, Math.PI * 2);
            ctx.fillStyle = '#ff0000';
            ctx.fill();
          } else {
            ctx.arc(boxL + o[0], cy + o[1], 17, 0, Math.PI * 2);
          }
          ctx.stroke();
        });
      }
      ctx.fillStyle = '#000';
      ctx.textAlign = 'left';
      ctx.textBaseline = 'middle';
      ctx.fillText(label, boxL + 108, cy);
    });
    ctx.restore();
  }
};

const tickFont = { family: FONT, size: 31 };
const labelFont = { family: FONT, size: 33.5 };

new Chart(document.getElementById('chart'), {
  type: 'line',
  data: { datasets: datasets },
  plugins: [framePlugin],
  options: {
    responsive: false,
    animation: false,
    devicePixelRatio: 1,
    events: [],
    layout: { padding: { top: 99, right: 69, bottom: 0, left: 0 } },
    plugins: { legend: { display: false }, title: { display: false }, tooltip: { enabled: false } },
    scales: {
      x: {
        type: 'linear', min: 2150, max: 3010,
        afterBuildTicks: s => { s.ticks = xTicks.map(v => ({ value: v })); },
        afterFit: s => { s.height = 152; },
        grid: { display: false, drawTicks: false },
        border: { display: false },
        ticks: { font: tickFont, color: '#000', padding: 12, maxRotation: 0, autoSkip: false, callback: v => String(v) },
        title: { display: true, text: 'Time (days)', font: labelFont, color: '#000', padding: { top: 0, bottom: 43 } }
      },
      y: {
        type: 'linear', min: 0, max: 0.325,
        afterBuildTicks: s => { s.ticks = yTicks.map(v => ({ value: v })); },
        afterFit: s => { s.width = 192; },
        grid: { display: false, drawTicks: false },
        border: { display: false },
        ticks: { font: tickFont, color: '#000', padding: 17, autoSkip: false, callback: v => Number(v).toFixed(2) },
        title: { display: true, text: 'Prevalence (population fraction)', font: labelFont, color: '#000', padding: { top: 45, bottom: 0 } }
      }
    }
  }
});
</script>
</body>
</html>
